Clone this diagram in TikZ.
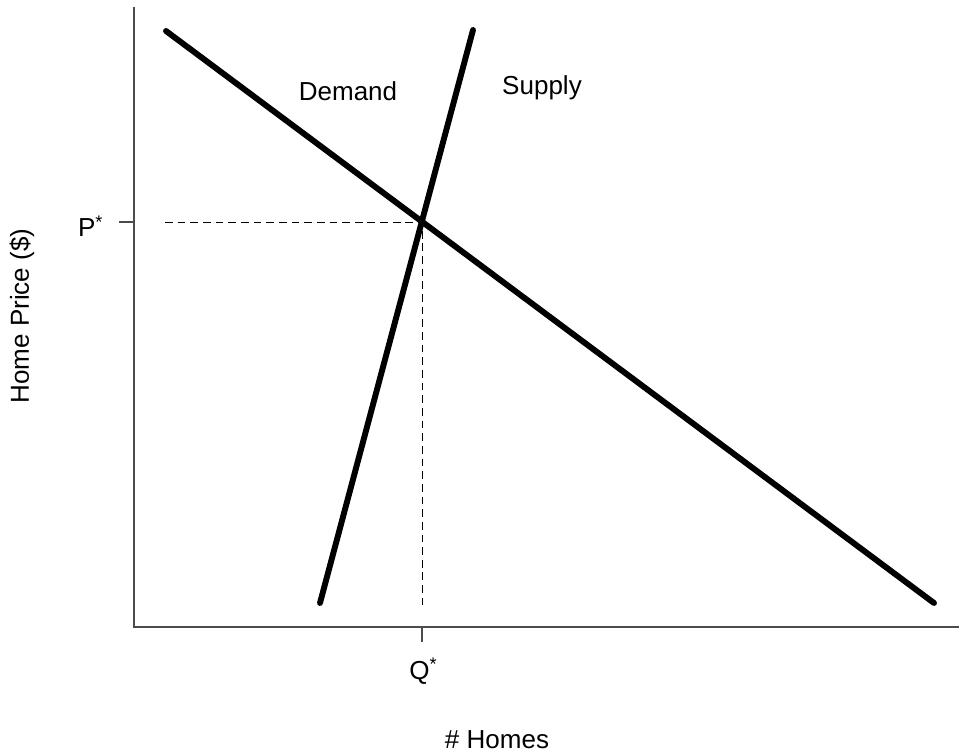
\documentclass[tikz,border=0pt]{standalone}
\usepackage{fontspec}
\setmainfont{Liberation Sans}
\usetikzlibrary{calc}
\usetikzlibrary{positioning}

\begin{document}
\begin{tikzpicture}[x=0.025cm, y=-0.025cm,
    curve/.style={line width=4.2pt, line cap=round},
    axisline/.style={line width=1.3pt, draw=black!70},
    guide/.style={line width=0.7pt, dashed, dash pattern=on 5.5pt off 3.5pt},
    lbl/.style={font=\fontsize{18.5}{21}\selectfont, inner sep=0pt}]
    \useasboundingbox (0,0) rectangle (959,753);

    % axes
    \coordinate (origin) at (134,627);
    \coordinate (ytop) at (134,7);
    \coordinate (xend) at (959,627);
    \draw [axisline] (ytop) -- (origin) -- (xend);

    % curves
    \coordinate (dstart) at (166,31);
    \coordinate (dend) at (934,603);
    \coordinate (sstart) at (320,603);
    \coordinate (send) at (473,30);
    \coordinate (eq) at (422,222);
    \draw [curve] (dstart) -- (dend);
    \draw [curve] (sstart) -- (send);

    % equilibrium guides
    \coordinate (pguide) at (165,222);
    \coordinate (qguide) at (422,605);
    \draw [guide] (pguide) -- (eq) -- (qguide);

    % ticks
    \coordinate (ptick) at (119,222);
    \coordinate (qtick) at (422,642);
    \draw [axisline] (ptick) -- (ytop |- ptick);
    \draw [axisline] (qtick) -- (qtick |- origin);

    % labels
    \node [lbl] (demand) at (348,91) {Demand};
    \node [lbl] (supply) at (542,88) {Supply};
    \node [lbl, left=11pt of ptick, yshift=-3pt] (pstar) {P\textsuperscript{*}};
    \node [lbl, below=11pt of qtick, xshift=1pt] (qstar) {Q\textsuperscript{*}};
    \node [lbl] (xlabel) at (497,740) {\# Homes};
    \node [lbl, rotate=90] (ylabel) at (22,316) {Home Price (\$)};
\end{tikzpicture}
\end{document}
